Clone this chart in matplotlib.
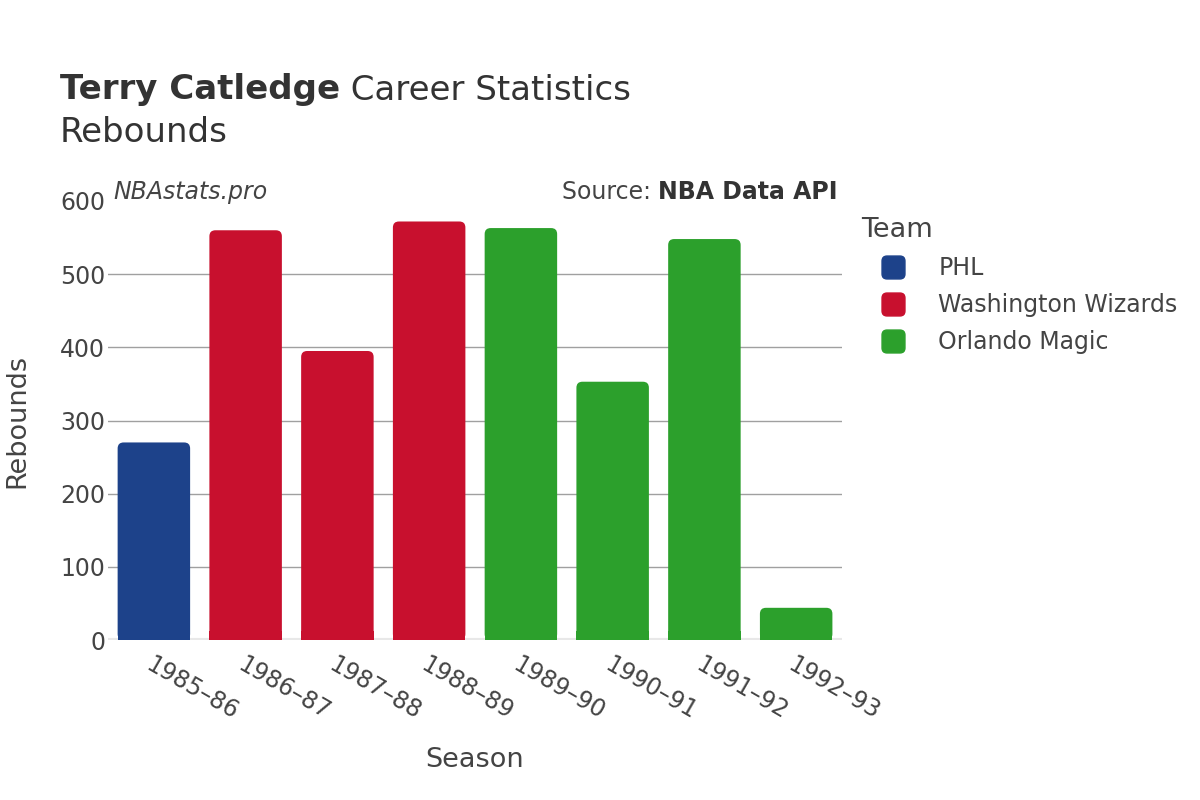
import matplotlib
matplotlib.use("Agg")
import matplotlib.pyplot as plt
from matplotlib.patches import FancyBboxPatch, BoxStyle
from matplotlib.lines import Line2D

seasons = ["1985–86", "1986–87", "1987–88", "1988–89", "1989–90", "1990–91", "1991–92", "1992–93"]
teams = ["PHL", "Washington Wizards", "Washington Wizards", "Washington Wizards",
         "Orlando Magic", "Orlando Magic", "Orlando Magic", "Orlando Magic"]
rebounds = [270, 560, 395, 572, 563, 353, 548, 44]
team_order = ["PHL", "Washington Wizards", "Orlando Magic"]
team_colors = {"PHL": "#1d428a", "Washington Wizards": "#c8102e", "Orlando Magic": "#2ca02c"}

plt.rcParams['font.family'] = ['DejaVu Sans']
txt = "#444444"
dark = "#333333"

fig = plt.figure(figsize=(12, 8), dpi=100)
ax = fig.add_axes([0.09, 0.2, 0.6117, 0.54875])

x = list(range(len(seasons)))
bars = ax.bar(x, rebounds, width=0.79, color=[team_colors[t] for t in teams], zorder=3)

# rounded tops
px_x = 734 / 8.0
px_y = 439 / 600.0
aspect = (1 / px_y) / (1 / px_x)
for b in bars:
    b.set_visible(False)
    r = FancyBboxPatch((b.get_x(), 0), b.get_width(), b.get_height(),
                       boxstyle="round,pad=0,rounding_size=%f" % (6 / px_x),
                       mutation_aspect=aspect, facecolor=b.get_facecolor(),
                       edgecolor="none", zorder=3)
    ax.add_patch(r)
    ax.bar(b.get_x() + b.get_width() / 2, min(b.get_height(), 12), width=b.get_width(),
           color=b.get_facecolor(), zorder=3)

ax.set_xlim(-0.5, len(seasons) - 0.5)
ax.set_ylim(0, 600)
ax.set_yticks([0, 100, 200, 300, 400, 500, 600])
ax.yaxis.grid(True, color="#a0a0a0", linewidth=1, zorder=0)
ax.set_axisbelow(True)
for s in ax.spines.values():
    s.set_visible(False)
ax.axhline(0, color="#e8e8e8", linewidth=3, zorder=2)
ax.tick_params(axis='both', length=0, labelsize=17, colors=txt)
ax.tick_params(axis='y', pad=2)
ax.tick_params(axis='x', pad=9)
ax.set_xticks(x)
ax.set_xticklabels(seasons, rotation=-30, ha="left", rotation_mode="anchor")
ax.set_xlabel("Season", fontsize=19.5, color=txt)
ax.set_ylabel("Rebounds", fontsize=19.5, color=txt)
ax.xaxis.set_label_coords(0.5, (640 - 760) / 439)
ax.xaxis.label.set_va("center")
ax.yaxis.set_label_coords((17 - 108) / 734, 0.5)
ax.yaxis.label.set_va("center")

fig.canvas.draw()
gl = ax.yaxis.get_gridlines()
gl[-1].set_visible(False)

renderer = fig.canvas.get_renderer()

def after(t):
    bb = t.get_window_extent(renderer)
    return bb.x1 / fig.bbox.width

t1 = fig.text(60 / 1200, 1 - 90 / 800, "Terry Catledge", fontsize=24.5, fontweight="bold", color=dark, va="center")
fig.text(after(t1), 1 - 90 / 800, " Career Statistics", fontsize=24.5, color=dark, va="center")
fig.text(60 / 1200, 1 - 132 / 800, "Rebounds", fontsize=24.5, color=dark, va="center")

fig.text(113 / 1200, 1 - 192 / 800, "NBAstats.pro", fontsize=17, style="italic", color=txt, va="center")
s2 = fig.text(838 / 1200, 1 - 192 / 800, "NBA Data API", fontsize=17, fontweight="bold", color=dark, va="center", ha="right")
bb = s2.get_window_extent(renderer)
fig.text(bb.x0 / fig.bbox.width, 1 - 192 / 800, "Source: ", fontsize=17, color=txt, va="center", ha="right")

rsq = BoxStyle.Round(pad=0, rounding_size=0.22)(-0.5, -0.5, 1, 1, 1.0)
handles = [Line2D([0], [0], marker=rsq, linestyle="none", markersize=16.5,
                  markerfacecolor=team_colors[t], markeredgecolor=team_colors[t]) for t in team_order]
leg = fig.legend(handles, team_order, title="Team", loc="upper left",
                 bbox_to_anchor=(852 / 1200, 1 - 208 / 800), frameon=False,
                 fontsize=17, title_fontsize=19.5, labelspacing=0.55, handletextpad=0.55,
                 borderaxespad=0, handlelength=2.7)
leg._legend_box.align = "left"
for t in leg.get_texts():
    t.set_color(txt)
leg.get_title().set_color(txt)

fig.savefig("out.png", dpi=100)
